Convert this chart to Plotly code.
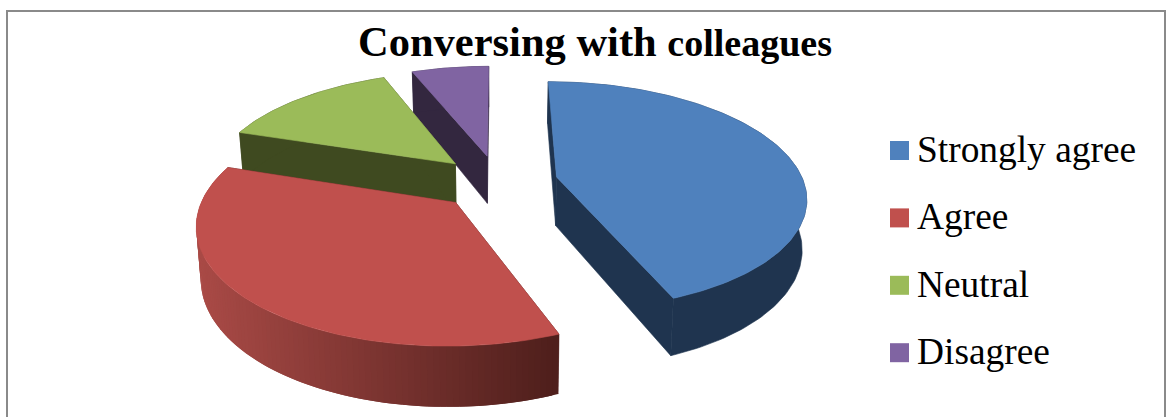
import numpy as np
import plotly.graph_objects as go

# Survey shares in percent
categories = ["Strongly agree", "Agree", "Neutral", "Disagree"]
values = [44, 36, 14, 6]

top_colors = ["#4F81BD", "#C0504D", "#9BBB59", "#8064A2"]
wall_colors = ["#1F344F", "#4F1F1C", "#3F4A20", "#33273F"]

# Projection of the tilted disc onto the page (axis units are pixels)
CX, CY = 498, 182
RADIUS = 247
EXPLODE = 60
TILT = 0.455
VIEW_DIST = 1500
THICKNESS = 49
BASE_SHRINK = 0.985
W, H = 1171, 417

# Key placement
KEY_X = 899.5
KEY_TEXT_X = 917
KEY_Y0 = 150.5
KEY_STEP = 67.4
KEY_TEXT_DROP = 2


def project(px, py, lower=False):
    px, py = np.asarray(px, float), np.asarray(py, float)
    s = 1 / (1 - py / VIEW_DIST)
    x = px * s
    y = py * TILT * s
    if lower:
        return CX + x * BASE_SHRINK, CY + y + THICKNESS * s
    return CX + x, CY + y


def shade(c0, c1, t):
    a = [int(c0[i:i + 2], 16) for i in (1, 3, 5)]
    b = [int(c1[i:i + 2], 16) for i in (1, 3, 5)]
    return "rgb(%d,%d,%d)" % tuple(round(u + (v - u) * t) for u, v in zip(a, b))


fig = go.Figure()


def polygon(xs, ys, color, stroke=0.6):
    fig.add_trace(go.Scatter(
        x=list(xs) + [xs[0]], y=list(ys) + [ys[0]], mode="lines", fill="toself",
        fillcolor=color, line=dict(color=color, width=stroke),
        hoverinfo="skip", showlegend=False,
    ))


total = sum(values)
edges = np.cumsum([0] + values) / total * 2 * np.pi
slices = []
for i in range(len(values)):
    a0, a1 = edges[i], edges[i + 1]
    mid = (a0 + a1) / 2
    ox, oy = EXPLODE * np.sin(mid), -EXPLODE * np.cos(mid)
    t = np.linspace(a0, a1, max(int(values[i] * 3), 16))
    slices.append((i, ox, oy, ox + RADIUS * np.sin(t), oy - RADIUS * np.cos(t)))

# Painter's order: far slices first, near slice last
for i, ox, oy, rx, ry in [slices[3], slices[2], slices[0], slices[1]]:
    for px, py in ((rx[0], ry[0]), (rx[-1], ry[-1])):
        tx, ty = project([ox, px], [oy, py])
        bx, by = project([ox, px], [oy, py], lower=True)
        polygon([tx[0], tx[1], bx[1], bx[0]], [ty[0], ty[1], by[1], by[0]], wall_colors[i])

    tx, ty = project(rx, ry)
    bx, by = project(rx, ry, lower=True)
    if i == 1:
        # The rim of this slice darkens from left to right; each band overlaps
        # the next one so that no seams show between them
        n = len(tx)
        for j in range(n - 1):
            k = min(j + 2, n - 1)
            f = np.clip((tx[j] - 200) / 356, 0, 1)
            polygon([tx[j], tx[k], bx[k], bx[j]],
                    [ty[j], ty[k], by[k], by[j]],
                    shade("#A94A46", "#4F1F1C", float(f)), stroke=0)
    else:
        polygon(list(tx) + list(bx[::-1]), list(ty) + list(by[::-1]), wall_colors[i])

    ax, ay = project([ox], [oy])
    polygon([ax[0]] + list(tx), [ay[0]] + list(ty), top_colors[i])

# Colour key beside the pie
for n, (name, color) in enumerate(zip(categories, top_colors)):
    y = KEY_Y0 + n * KEY_STEP
    fig.add_trace(go.Scatter(
        x=[KEY_X], y=[y], mode="markers", name=name,
        marker=dict(symbol="square", size=19, color=color),
        hoverinfo="name", showlegend=False,
    ))
    fig.add_trace(go.Scatter(
        x=[KEY_TEXT_X], y=[y + KEY_TEXT_DROP], mode="text",
        text=[name], textposition="middle right",
        textfont=dict(family="Liberation Serif", size=37.4, color="#000000"),
        hoverinfo="skip", showlegend=False, cliponaxis=False,
    ))

fig.add_annotation(
    text='<b>Conversing with <span style="font-size:38px">colleagues</span></b>',
    xref="paper", yref="paper", x=595 / W, y=1 - 41 / H, xanchor="center", yanchor="middle",
    showarrow=False, font=dict(family="Liberation Serif", size=42.5, color="#000000"),
)

fig.update_layout(
    width=W, height=H, margin=dict(l=0, r=0, t=0, b=0), autosize=False,
    paper_bgcolor="#FFFFFF", plot_bgcolor="#FFFFFF", showlegend=False,
    xaxis=dict(range=[0, W], visible=False, fixedrange=True),
    yaxis=dict(range=[H, 0], visible=False, fixedrange=True),
    shapes=[dict(
        type="rect", xref="x", yref="y", x0=7, x1=1165, y0=11, y1=H + 10,
        line=dict(color="#8A8A8A", width=2), fillcolor="rgba(0,0,0,0)", layer="below",
    )],
)

fig.write_html("out.html", config=dict(displayModeBar=False))
